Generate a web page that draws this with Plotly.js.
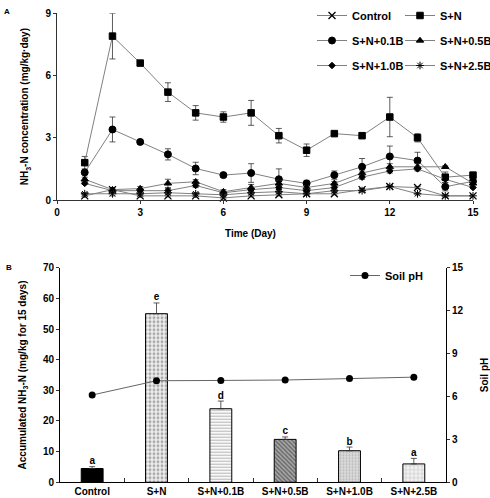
<!DOCTYPE html>
<html>
<head>
<meta charset="utf-8">
<script src="https://cdn.plot.ly/plotly-3.0.1.min.js"></script>
<style>html,body{margin:0;padding:0;background:#fff;}#chart{width:490px;height:498px;}</style>
</head>
<body>
<div id="chart"></div>
<script>
// Panel A: daily NH3-N volatilisation over 15 days
const days = [1, 2, 3, 4, 5, 6, 7, 8, 9, 10, 11, 12, 13, 14, 15];

const control    = [0.2, 0.5, 0.2, 0.2, 0.2, 0.1, 0.2, 0.25, 0.3, 0.3, 0.5, 0.65, 0.6, 0.2, 0.2];
const controlErr = [0.05, 0.1, 0.05, 0.05, 0.05, 0.05, 0.05, 0.05, 0.05, 0.05, 0.05, 0.05, 0.05, 0.05, 0.05];

const sn    = [1.8, 7.9, 6.6, 5.2, 4.2, 4.0, 4.2, 3.1, 2.4, 3.2, 3.1, 4.0, 3.0, 1.1, 1.2];
const snErr = [0.3, 1.1, 0.1, 0.45, 0.35, 0.25, 0.6, 0.35, 0.3, 0.1, 0.05, 0.95, 0.2, 0.25, 0.1];

const sn01    = [1.33, 3.4, 2.8, 2.2, 1.52, 1.2, 1.3, 1.0, 0.8, 1.2, 1.6, 2.1, 1.9, 0.64, 0.9];
const sn01Err = [0.1, 0.6, 0.1, 0.27, 0.3, 0.1, 0.45, 0.5, 0.15, 0.2, 0.4, 0.5, 0.4, 0.2, 0.1];

const sn05    = [1.0, 0.5, 0.55, 0.8, 0.88, 0.4, 0.6, 0.8, 0.6, 0.8, 1.3, 1.6, 1.6, 1.6, 0.8];
const sn05Err = [0.1, 0.05, 0.1, 0.2, 0.1, 0.1, 0.15, 0.15, 0.1, 0.1, 0.1, 0.15, 0.15, 0.05, 0.1];

const sn10    = [0.8, 0.45, 0.45, 0.45, 0.7, 0.35, 0.5, 0.6, 0.45, 0.6, 1.1, 1.4, 1.5, 1.0, 0.6];
const sn10Err = [0.05, 0.05, 0.05, 0.1, 0.1, 0.05, 0.1, 0.1, 0.1, 0.1, 0.1, 0.1, 0.1, 0.05, 0.05];

const sn25    = [0.3, 0.3, 0.3, 0.35, 0.3, 0.25, 0.35, 0.4, 0.3, 0.45, 0.45, 0.65, 0.3, 0.2, 0.2];
const sn25Err = [0.05, 0.1, 0.05, 0.05, 0.05, 0.05, 0.05, 0.05, 0.05, 0.05, 0.05, 0.05, 0.05, 0.05, 0.05];

// Panel B: accumulated NH3-N and soil pH per treatment
const treatments = ['Control', 'S+N', 'S+N+0.1B', 'S+N+0.5B', 'S+N+1.0B', 'S+N+2.5B'];
const accumulated = [4.5, 55, 24, 14, 10.3, 6];
const accumulatedErr = [0.6, 3.5, 2.5, 0.8, 1.2, 1.8];
const sigLetters = ['a', 'e', 'd', 'c', 'b', 'a'];
const soilPH = [6.1, 7.1, 7.12, 7.15, 7.25, 7.35];

const W = 490, H = 498;
const px = v => v / W;
const py = v => 1 - v / H;

const FONT = 'Liberation Sans, Arial, sans-serif';
const lineGray = '#808080';

function series(name, y, err, symbol, size, legend, group, extraMarker) {
  return {
    type: 'scatter', mode: 'lines+markers', name: name,
    x: days, y: y,
    xaxis: 'x', yaxis: 'y',
    legend: legend, legendgroup: group,
    line: {color: lineGray, width: 1},
    marker: Object.assign({symbol: symbol, size: size, color: '#000', line: {color: '#000', width: 1}}, extraMarker || {}),
    error_y: {type: 'data', array: err, visible: true, color: '#333', thickness: 0.8, width: 3},
    cliponaxis: false
  };
}

// fill style of each treatment's bar
const barFills = [
  {bg: '#000000', shape: '',   fg: '#000000', size: 8, solidity: 0.3},
  {bg: '#f0f0f0', shape: '.',  fg: '#606060', size: 4, solidity: 0.45},
  {bg: '#ffffff', shape: '-',  fg: '#707070', size: 3, solidity: 0.4},
  {bg: '#a8a8a8', shape: '\\', fg: '#202020', size: 3, solidity: 0.45},
  {bg: '#dcdcdc', shape: '.',  fg: '#909090', size: 3, solidity: 0.35},
  {bg: '#f2f2f2', shape: '+',  fg: '#8a8a8a', size: 4, solidity: 0.25}
];

const barTraces = treatments.map((t, i) => ({
  type: 'bar', x: [t], y: [accumulated[i]],
  xaxis: 'x2', yaxis: 'y2', showlegend: false,
  marker: {
    color: barFills[i].bg,
    line: {color: '#000', width: 1},
    pattern: {shape: barFills[i].shape, fgcolor: barFills[i].fg, bgcolor: barFills[i].bg,
              size: barFills[i].size, solidity: barFills[i].solidity, fillmode: 'overlay'}
  },
  error_y: {type: 'data', symmetric: false, array: [accumulatedErr[i]], arrayminus: [0],
            color: '#333', thickness: 0.8, width: 3}
}));

const traces = [
  series('Control', control, controlErr, 'x-thin-open', 7, 'legend', 'g1', {line: {color: '#000', width: 1.3}}),
  series('S+N', sn, snErr, 'square', 6.5, 'legend2', 'g2'),
  series('S+N+0.1B', sn01, sn01Err, 'circle', 7, 'legend', 'g3'),
  series('S+N+0.5B', sn05, sn05Err, 'triangle-up', 6.5, 'legend2', 'g4'),
  series('S+N+1.0B', sn10, sn10Err, 'diamond', 5, 'legend', 'g5'),
  series('S+N+2.5B', sn25, sn25Err, 'asterisk-open', 6.5, 'legend2', 'g6', {line: {color: '#000', width: 1}})
].concat(barTraces, [
  {
    type: 'scatter', mode: 'text', x: treatments,
    y: accumulated.map((v, i) => v + accumulatedErr[i]),
    text: sigLetters, textposition: 'top center',
    textfont: {family: FONT, size: 10, weight: 'bold', color: '#000'},
    xaxis: 'x2', yaxis: 'y2', showlegend: false, cliponaxis: false, hoverinfo: 'skip'
  },
  {
    type: 'scatter', mode: 'lines+markers', name: 'Soil pH',
    x: treatments, y: soilPH,
    xaxis: 'x2', yaxis: 'y3', legend: 'legend3',
    line: {color: '#666', width: 1},
    marker: {symbol: 'circle', size: 7, color: '#000'},
    cliponaxis: false
  }
]);

const axisBase = {
  showgrid: false, zeroline: false, showline: true, linecolor: '#333', linewidth: 1,
  ticks: 'outside', ticklen: 3, tickcolor: '#333',
  tickfont: {family: FONT, size: 10, weight: 'bold', color: '#000'}
};
const titleFont = {family: FONT, size: 10, weight: 'bold', color: '#000'};
const legendFont = {family: FONT, size: 11, weight: 'bold', color: '#000'};

const layout = {
  width: W, height: H,
  // fixed margins: the right legend column may run past the edge without shrinking the plots
  margin: {l: 0, r: 0, t: 0, b: 0, autoexpand: false},
  paper_bgcolor: '#fff', plot_bgcolor: 'rgba(0,0,0,0)',
  showlegend: true,
  barmode: 'overlay',
  bargap: 0.66,
  font: {family: FONT, size: 10, color: '#000'},
  xaxis: Object.assign({}, axisBase, {
    domain: [px(57), px(473)], range: [0, 15], tick0: 0, dtick: 3, anchor: 'y'
  }),
  yaxis: Object.assign({}, axisBase, {
    domain: [py(200), py(13.3)], range: [0, 9], tick0: 0, dtick: 3, anchor: 'x',
    title: {text: 'NH<sub>3</sub>-N concentration (mg/kg·day)', font: titleFont, standoff: 14}
  }),
  xaxis2: Object.assign({}, axisBase, {
    domain: [px(60), px(446)], anchor: 'y2', type: 'category',
    ticks: 'inside', tickson: 'boundaries', ticklen: 4, linecolor: '#000'
  }),
  yaxis2: Object.assign({}, axisBase, {
    domain: [py(482.3), py(267.7)], range: [0, 70], tick0: 0, dtick: 10, anchor: 'x2', linecolor: '#000',
    title: {text: 'Accumulated NH<sub>3</sub>-N (mg/kg for 15 days)', font: titleFont, standoff: 14}
  }),
  yaxis3: Object.assign({}, axisBase, {
    overlaying: 'y2', side: 'right', anchor: 'x2', range: [0, 15], tick0: 0, dtick: 3, linecolor: '#000',
    title: {text: 'Soil pH', font: titleFont, standoff: 19}
  }),
  legend: {
    x: px(312), y: py(1), xanchor: 'left', yanchor: 'top', orientation: 'v',
    bgcolor: 'rgba(0,0,0,0)', font: legendFont, tracegroupgap: 6, itemwidth: 30
  },
  legend2: {
    x: px(400), y: py(1), xanchor: 'left', yanchor: 'top', orientation: 'v',
    bgcolor: 'rgba(0,0,0,0)', font: legendFont, tracegroupgap: 6, itemwidth: 30
  },
  legend3: {
    x: px(345), y: py(261), xanchor: 'left', yanchor: 'top', orientation: 'v',
    bgcolor: 'rgba(0,0,0,0)', font: legendFont, itemwidth: 30
  },
  annotations: [
    {text: 'Time (Day)', xref: 'paper', yref: 'paper', x: px(250), y: py(233),
     xanchor: 'center', yanchor: 'middle', showarrow: false, font: titleFont},
    {text: 'A', xref: 'paper', yref: 'paper', x: px(2), y: py(12),
     xanchor: 'left', yanchor: 'middle', showarrow: false, font: {family: FONT, size: 8, weight: 'bold'}},
    {text: 'B', xref: 'paper', yref: 'paper', x: px(4), y: py(267),
     xanchor: 'left', yanchor: 'middle', showarrow: false, font: {family: FONT, size: 8, weight: 'bold'}}
  ]
};

Plotly.newPlot('chart', traces, layout, {displayModeBar: false, staticPlot: true});
</script>
</body>
</html>
